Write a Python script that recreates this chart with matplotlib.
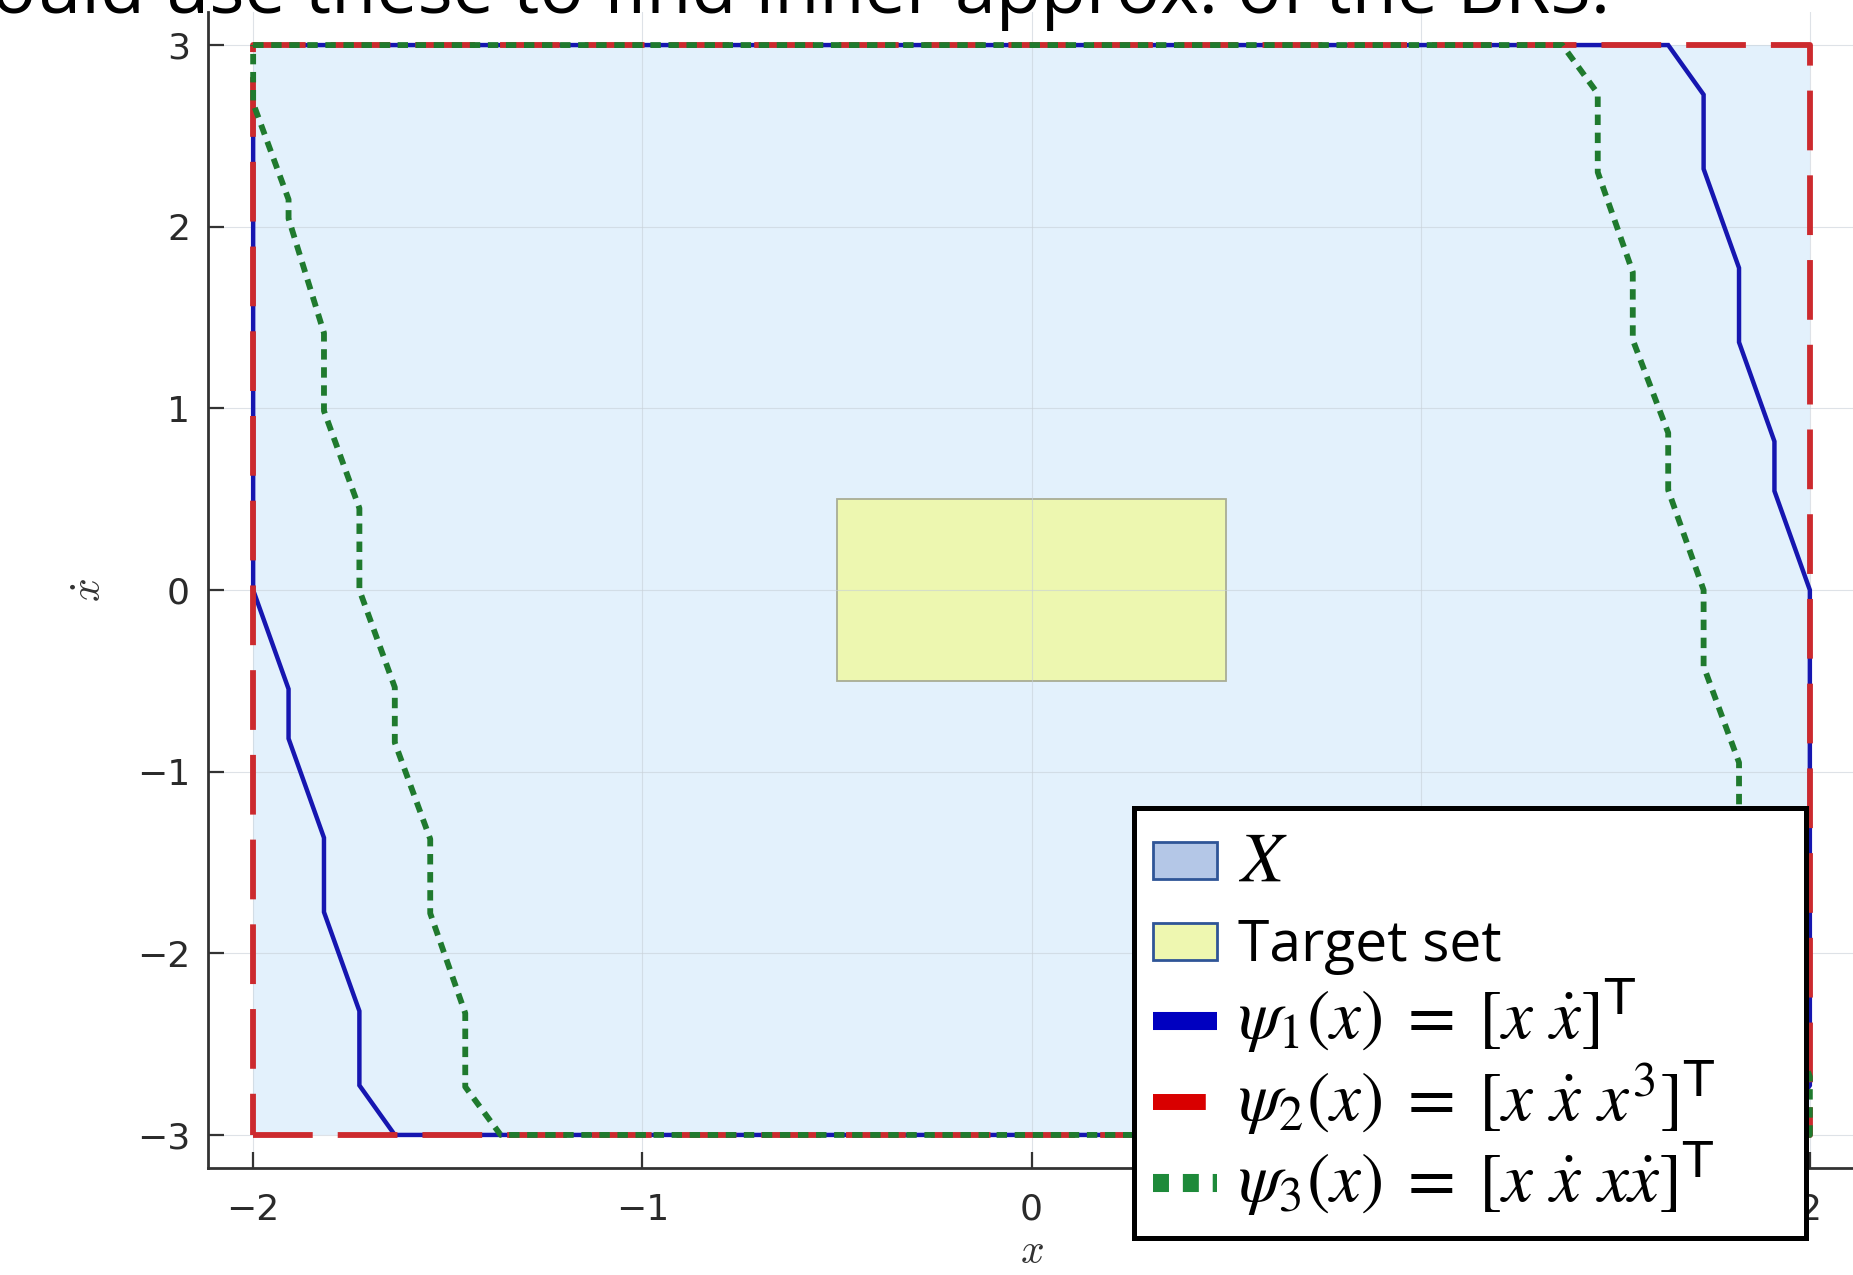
import matplotlib
matplotlib.use('Agg')
import matplotlib.pyplot as plt
from matplotlib.lines import Line2D
from matplotlib.patches import Patch, Rectangle
from matplotlib.offsetbox import DrawingArea

plt.rcParams['lines.scale_dashes'] = False
plt.rcParams['mathtext.fontset'] = 'cm'

# ---------------- data ----------------
x_ticks = [-2, -1, 0, 1, 2]
y_ticks = [-3, -2, -1, 0, 1, 2, 3]
xlim = (-2.116, 2.116)
ylim = (-3.182, 3.182)

# state constraint set X and target set (xmin, xmax, ymin, ymax)
X_box = (-2.0, 2.0, -3.0, 3.0)
target_box = (-0.5, 0.5, -0.5, 0.5)

# psi_1 inner approximation boundary (blue)
psi1_x = [-1.909, 1.636, 1.727, 1.727, 1.818, 1.818, 1.909, 1.909, 2.0, 2.0, 1.909,
          -1.636, -1.727, -1.727, -1.818, -1.818, -1.909, -1.909, -2.0, -2.0]
psi1_y = [3.0, 3.0, 2.727, 2.318, 1.773, 1.364, 0.818, 0.545, 0.0, -2.727, -3.0,
          -3.0, -2.727, -2.318, -1.773, -1.364, -0.818, -0.545, 0.0, 2.727]

# psi_2 inner approximation boundary (red) = whole X
psi2_x = [-2.0, 2.0, 2.0, -2.0, -2.0]
psi2_y = [-3.0, -3.0, 3.0, 3.0, -3.0]

# psi_3 inner approximation boundary (green)
psi3_x = [-2.0, 1.364, 1.455, 1.455, 1.545, 1.545, 1.636, 1.636, 1.727, 1.727,
          1.818, 1.818, 1.909, 1.909, 2.0, 2.0,
          -1.364, -1.455, -1.455, -1.545, -1.545, -1.636, -1.636, -1.727, -1.727,
          -1.818, -1.818, -1.909, -1.909, -2.0, -2.0]
psi3_y = [3.0, 3.0, 2.733, 2.30, 1.75, 1.377, 0.865, 0.55, 0.0, -0.42,
          -0.95, -1.40, -2.03, -2.15, -2.68, -3.0,
          -3.0, -2.735, -2.33, -1.78, -1.371, -0.84, -0.536, 0.0, 0.45,
          0.986, 1.415, 2.045, 2.15, 2.68, 3.0]

legend_labels = [r'$X$', 'Target set',
                 r'$\psi_1(x)\;=\;[x\ \dot{x}]^{\mathregular{T}}$',
                 r'$\psi_2(x)\;=\;[x\ \dot{x}\ x^3]^{\mathregular{T}}$',
                 r'$\psi_3(x)\;=\;[x\ \dot{x}\ x\dot{x}]^{\mathregular{T}}$']
title_text = 'We could use these to find inner approx. of the BRS.'

# ---------------- figure ----------------
W, H, DPI = 1853, 1275, 100
fig = plt.figure(figsize=(W / DPI, H / DPI), dpi=DPI)
fig.patch.set_facecolor('white')

ax_l, ax_r, ax_t, ax_b = 208, 1855, 12, 1168
ax = fig.add_axes([ax_l / W, 1 - ax_b / H, (ax_r - ax_l) / W, (ax_b - ax_t) / H])
ax.set_xlim(*xlim)
ax.set_ylim(*ylim)

# fills
ax.add_patch(Rectangle((X_box[0], X_box[2]), X_box[1] - X_box[0], X_box[3] - X_box[2],
                       facecolor='#e3f1fc', edgecolor='none', zorder=0.3))
ax.add_patch(Rectangle((target_box[0], target_box[2]), target_box[1] - target_box[0],
                       target_box[3] - target_box[2], facecolor='#edf7b0',
                       edgecolor='#a9ad95', linewidth=1.3, zorder=0.4))

# boundaries
ax.plot(psi1_x, psi1_y, color='#1616b0', lw=3.2, solid_joinstyle='miter', zorder=2)
ax.plot(psi2_x, psi2_y, color='#cc2a2e', lw=4.2, dashes=(43, 18),
        dash_capstyle='butt', zorder=3)
ax.plot(psi3_x, psi3_y, color='#1f7a2e', lw=4.2, dashes=(7.5, 5.5),
        dash_capstyle='butt', zorder=4)

# axes styling
for s in ['top', 'right']:
    ax.spines[s].set_visible(False)
for s in ['left', 'bottom']:
    ax.spines[s].set_linewidth(2.0)
    ax.spines[s].set_color('#333333')
ax.set_facecolor('white')
ax.set_xticks(x_ticks)
ax.set_yticks(y_ticks)
ax.set_xticklabels([str(v).replace('-', '\u2212') for v in x_ticks])
ax.set_yticklabels([str(v).replace('-', '\u2212') for v in y_ticks])
ax.tick_params(direction='in', length=11.5, width=1.6, color='#333333',
               labelsize=26, labelcolor='#2a2a2a')
ax.tick_params(axis='y', pad=13)
ax.tick_params(axis='x', pad=18)
ax.grid(True, color='#c8d0d8', lw=0.8, alpha=0.6)
ax.set_axisbelow(True)

ax.set_xlabel(r'$x$', fontsize=30, labelpad=2, color='#333333')
ax.set_ylabel(r'$\dot{x}$', fontsize=30, labelpad=19, color='#333333', rotation=90)

# partially visible slide text at top
fig.text(1610 / W, 1 - 13 / H, title_text, ha='right', va='baseline',
         fontsize=53, family='Open Sans', color='black')

# ---------------- legend ----------------
handles = [
    Patch(facecolor='#b4c7e7', edgecolor='#2f5597', linewidth=2.0),
    Patch(facecolor='#eef7b0', edgecolor='#2f5597', linewidth=2.0),
    Line2D([], [], color='#0000c0', lw=13, solid_capstyle='butt'),
    Line2D([], [], color='#d90000', lw=11.5, dashes=(38, 20), dash_capstyle='butt'),
    Line2D([], [], color='#1e8a3a', lw=13, dashes=(11.5, 10), dash_capstyle='butt'),
]
leg_x0, leg_x1, leg_y0, leg_y1 = 1134, 1806, 808, 1231
leg = fig.legend(handles, legend_labels, loc='upper left',
                 bbox_to_anchor=(leg_x0 / W, 1 - leg_y1 / H, (leg_x1 - leg_x0) / W,
                                 (leg_y1 - leg_y0) / H),
                 bbox_transform=fig.transFigure, mode='expand',
                 borderaxespad=0, fontsize=40, handlelength=1.15, handleheight=0.65,
                 handletextpad=0.38, borderpad=0.35, labelspacing=0.035,
                 fancybox=False, framealpha=1, edgecolor='black')
leg.get_frame().set_linewidth(3.6)
for i, t in enumerate(leg.get_texts()):
    if i == 1:
        t.set_family('Open Sans')
        t.set_fontsize(41)
    else:
        t.set_math_fontfamily('stix')
        t.set_fontsize(50)

# extra room above the "Target set" row (as in the reference legend)
das = leg.findobj(lambda a: isinstance(a, DrawingArea))
if len(das) >= 2:
    das[1].height += 27 * 72 / DPI

fig.savefig('out.png', dpi=DPI, facecolor='white')
